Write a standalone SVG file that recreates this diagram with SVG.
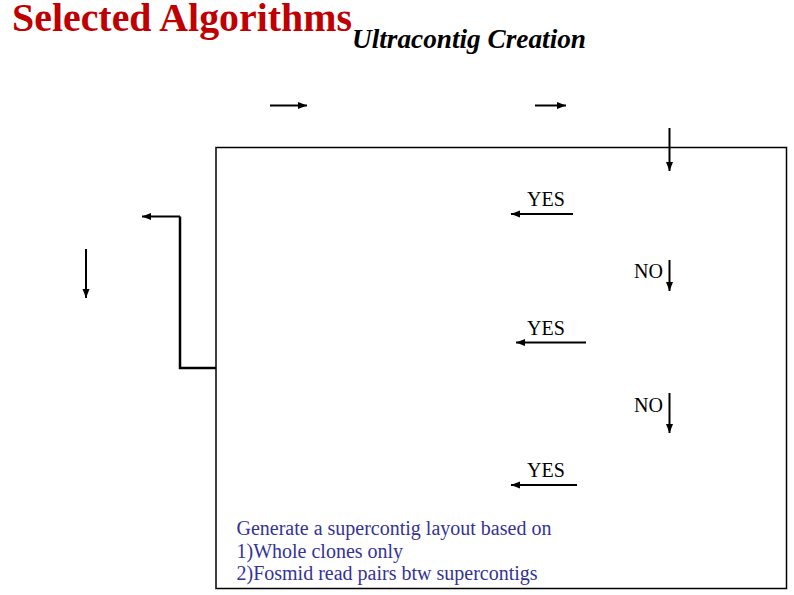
<svg xmlns="http://www.w3.org/2000/svg" width="794" height="595" viewBox="0 0 794 595">
<defs>
<marker id="ah" markerUnits="userSpaceOnUse" markerWidth="10" markerHeight="10" viewBox="0 0 10 10" refX="9" refY="5" orient="auto">
<path d="M0,1.5 L9,5 L0,8.5 Z" fill="#000"/>
</marker>
</defs>
<style>
text{font-family:"Liberation Serif","Times New Roman",serif}
.c{fill:none;stroke:#000;stroke-width:2;marker-end:url(#ah)}
.lbl{font-size:20px;fill:#000}
.blue{font-size:20px;fill:#333399}
.t1{font-size:39px;font-weight:bold;fill:#C00000}
.t2{font-size:27.5px;font-weight:bold;font-style:italic;fill:#000}
</style>
<rect width="794" height="595" fill="#fff"/>
<g id="title">
<text class="t1" x="12" y="31" textLength="340" lengthAdjust="spacingAndGlyphs">Selected Algorithms</text>
<text class="t2" x="352" y="48" textLength="234" lengthAdjust="spacingAndGlyphs">Ultracontig Creation</text>
</g>
<g id="frame">
<rect x="216" y="147.5" width="570.5" height="441" fill="none" stroke="#000" stroke-width="1.5"/>
</g>
<g id="connectors">
<line class="c" x1="270" y1="105.5" x2="307" y2="105.5"/>
<line class="c" x1="535" y1="105.5" x2="566" y2="105.5"/>
<line class="c" x1="669.5" y1="128" x2="669.5" y2="171"/>
<line class="c" x1="573" y1="214" x2="511" y2="214"/>
<line class="c" x1="669.5" y1="260" x2="669.5" y2="291"/>
<line class="c" x1="586" y1="342.5" x2="516" y2="342.5"/>
<line class="c" x1="669.5" y1="393" x2="669.5" y2="433"/>
<line class="c" x1="577" y1="485" x2="511" y2="485"/>
<line class="c" x1="86" y1="249" x2="86" y2="298"/>
<polyline fill="none" stroke="#000" stroke-width="2.5" points="216,368 180,368 180,216.5"/>
<line class="c" stroke-width="1.5" x1="180" y1="216.5" x2="142" y2="216.5"/>
</g>
<g id="labels">
<text class="lbl" x="527" y="206">YES</text>
<text class="lbl" x="634" y="278">NO</text>
<text class="lbl" x="527" y="334.5">YES</text>
<text class="lbl" x="634" y="412">NO</text>
<text class="lbl" x="527" y="477">YES</text>
</g>
<g id="note">
<text class="blue" x="236.5" y="535">Generate a supercontig layout based on</text>
<text class="blue" x="236.5" y="558">1)Whole clones only</text>
<text class="blue" x="236.5" y="580">2)Fosmid read pairs btw supercontigs</text>
</g>
</svg>
